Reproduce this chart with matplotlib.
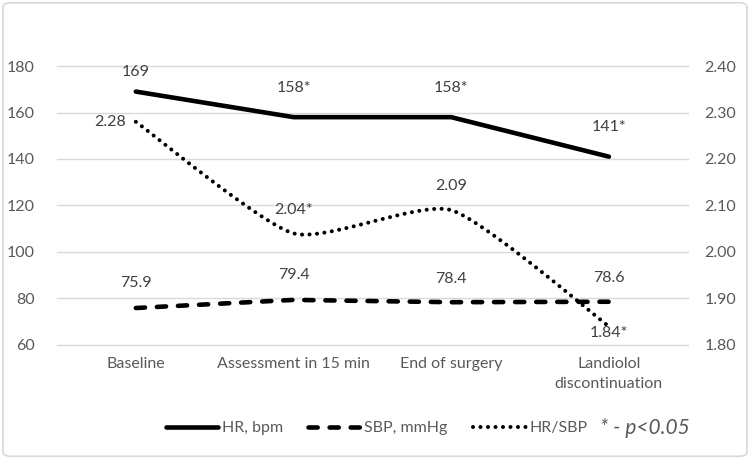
import numpy as np
import matplotlib
matplotlib.use("Agg")
import matplotlib.pyplot as plt
from matplotlib.patches import FancyBboxPatch

plt.rcParams['font.family'] = ['Lato', 'DejaVu Sans']

categories = ["Baseline", "Assessment in 15 min", "End of surgery", "Landiolol\ndiscontinuation"]
hr = [169, 158, 158, 141]
sbp = [75.9, 79.4, 78.4, 78.6]
ratio = [2.28, 2.04, 2.09, 1.84]
hr_labels = ["169", "158*", "158*", "141*"]
sbp_labels = ["75.9", "79.4", "78.4", "78.6"]
ratio_labels = ["2.28", "2.04*", "2.09", "1.84*"]

TICK = "#595959"
LABEL = "#404040"
GRID = "#d9d9d9"
FS = 11.5


def smooth(xs, ys, k=0.1, n=40):
    # bezier smoothing like the spreadsheet "smoothed line"
    p = np.column_stack([xs, ys]).astype(float)
    ext = np.vstack([p[0], p, p[-1]])
    out = []
    t = np.linspace(0, 1, n)[:, None]
    for i in range(len(p) - 1):
        p0, p3 = ext[i + 1], ext[i + 2]
        c1 = p0 + (ext[i + 2] - ext[i]) * k
        c2 = p3 - (ext[i + 3] - ext[i + 1]) * k
        seg = (1 - t) ** 3 * p0 + 3 * (1 - t) ** 2 * t * c1 + 3 * (1 - t) * t ** 2 * c2 + t ** 3 * p3
        out.append(seg)
    out = np.vstack(out)
    return out[:, 0], out[:, 1]


fig = plt.figure(figsize=(7.5, 4.59), dpi=100)
ax = fig.add_axes([0.076, 0.2484, 0.841, 0.6078])
ax2 = ax.twinx()

x = np.arange(len(categories))

ax.plot(x, hr, color="black", lw=3.3, solid_capstyle="round", label="HR, bpm", zorder=3)
ax.plot(x, sbp, color="black", lw=3.3, linestyle=(0, (2.0, 2.6)), dash_capstyle="round",
        label="SBP, mmHg", zorder=3)
sx, sy = smooth(x, ratio)
ax2.plot(sx, sy, color="black", lw=2.9, linestyle=(0, (0.01, 1.85)), dash_capstyle="round",
         label="HR/SBP", zorder=3)

ax.set_ylim(60, 180)
ax.set_yticks(np.arange(60, 181, 20))
ax2.set_ylim(1.8, 2.4)
ax2.set_yticks(np.arange(1.8, 2.41, 0.1))
ax2.set_yticklabels([f"{v:.2f}" for v in np.arange(1.8, 2.41, 0.1)])
ax.set_xlim(-0.5, 3.5)
ax.set_xticks(x)
ax.set_xticklabels(categories, linespacing=1.5)

ax.grid(axis="y", color=GRID, lw=1)
for gl in ax.get_ygridlines():
    gl.set_clip_on(False)
ax.set_axisbelow(True)
for a in (ax, ax2):
    for s in a.spines.values():
        s.set_visible(False)
    a.tick_params(length=0, colors=TICK, labelsize=FS)
ax.tick_params(axis="y", pad=16)
ax.tick_params(axis="x", pad=9)
ax2.tick_params(axis="y", pad=12)

for i in range(len(x)):
    ax.annotate(hr_labels[i], (x[i], hr[i]), xytext=(0, [9, 16, 16, 16][i]), textcoords="offset points",
                ha="center", va="bottom", color=LABEL, fontsize=FS)
    ax.annotate(sbp_labels[i], (x[i], sbp[i]), xytext=(0, [13, 13, 12, 12][i]), textcoords="offset points",
                ha="center", va="bottom", color=LABEL, fontsize=FS)

ax2.annotate(ratio_labels[0], (x[0], ratio[0]), xytext=(-7, 0), textcoords="offset points",
             ha="right", va="center", color=LABEL, fontsize=FS)
ax2.annotate(ratio_labels[1], (x[1], ratio[1]), xytext=(0, 12), textcoords="offset points",
             ha="center", va="bottom", color=LABEL, fontsize=FS)
ax2.annotate(ratio_labels[2], (x[2], ratio[2]), xytext=(0, 12), textcoords="offset points",
             ha="center", va="bottom", color=LABEL, fontsize=FS)
ax2.annotate(ratio_labels[3], (x[3], ratio[3]), xytext=(0, 0), textcoords="offset points",
             ha="center", va="top", color=LABEL, fontsize=FS)

h1, l1 = ax.get_legend_handles_labels()
h2, l2 = ax2.get_legend_handles_labels()
leg = fig.legend(h1 + h2, l1 + l2, loc="center", bbox_to_anchor=(0.502, 0.067), ncol=3,
                 frameon=False, handlelength=3.3, handletextpad=0.2, columnspacing=1.6,
                 fontsize=FS)
for t in leg.get_texts():
    t.set_color(TICK)
fig.text(0.80, 0.067, "* - p<0.05", style="italic", fontsize=15, color=TICK, va="center")

fig.patches.append(FancyBboxPatch((0.004, 0.006), 0.992, 0.988, boxstyle="round,pad=0,rounding_size=0.01",
                                  transform=fig.transFigure, fc="none", ec=GRID, lw=1.2))

fig.savefig("out.png", dpi=100)
plt.close(fig)
